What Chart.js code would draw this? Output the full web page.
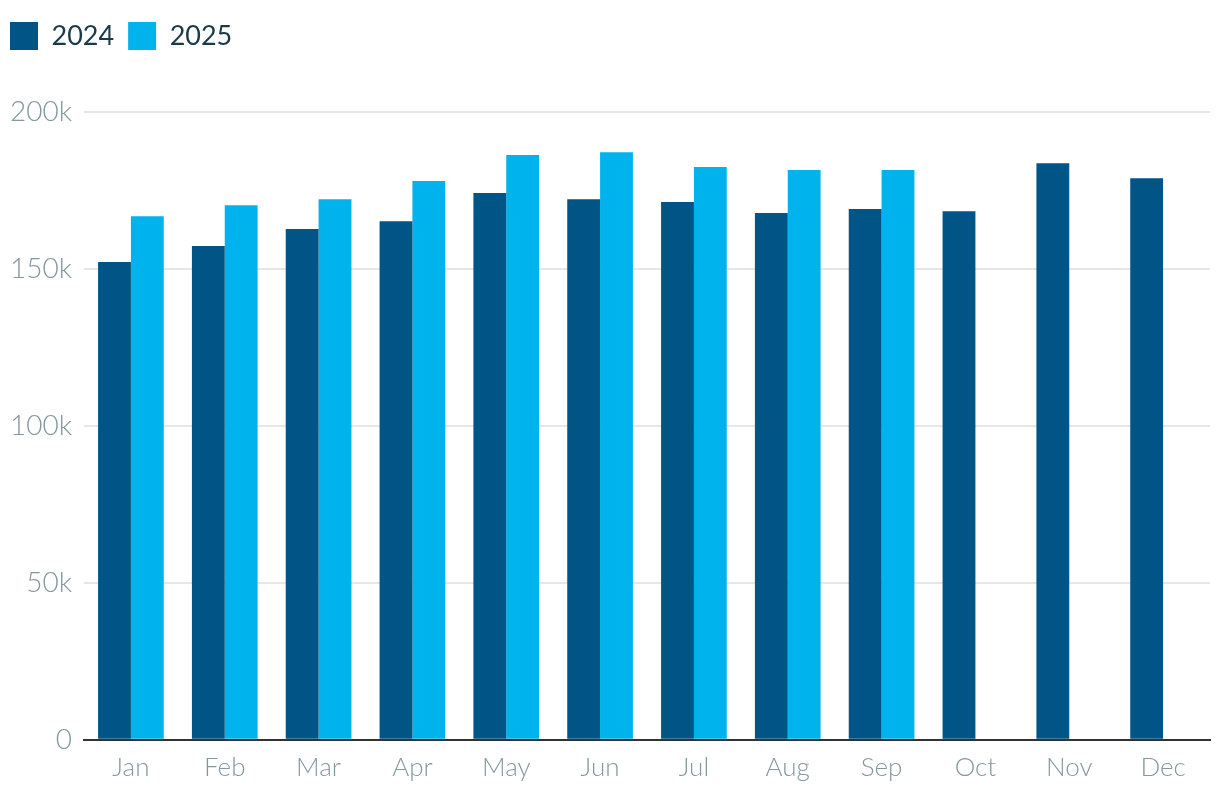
<!DOCTYPE html>
<html>
<head>
<meta charset="utf-8">
<script src="https://cdn.jsdelivr.net/npm/chart.js@4/dist/chart.umd.min.js"></script>
<style>
  html, body { margin: 0; padding: 0; background: #fff; }
  #wrap { width: 1220px; height: 800px; }
</style>
</head>
<body>
<div id="wrap"><canvas id="salesChart" width="1220" height="800"></canvas></div>
<script>
// Monthly values
const months = ['Jan', 'Feb', 'Mar', 'Apr', 'May', 'Jun', 'Jul', 'Aug', 'Sep', 'Oct', 'Nov', 'Dec'];
const values2024 = [152200, 157300, 162700, 165200, 174200, 172200, 171300, 167800, 169100, 168400, 183700, 178900];
const values2025 = [166800, 170300, 172200, 178000, 186300, 187200, 182500, 181500, 181500, null, null, null];
const yTicks = [0, 50000, 100000, 150000, 200000];

const tickColor = '#84989f';

// push the plot down below the legend
const legendGap = {
    id: 'legendGap',
    beforeInit(chart) {
        const origFit = chart.legend.fit;
        chart.legend.fit = function() {
            origFit.bind(chart.legend)();
            this.height += 52;
        };
    }
};

const ctx = document.getElementById('salesChart').getContext('2d');
const chart = new Chart(ctx, {
    type: 'bar',
    data: {
        labels: months,
        datasets: [
            {
                label: '2024',
                data: values2024,
                backgroundColor: '#005587',
                categoryPercentage: 0.7,
                barPercentage: 1.0
            },
            {
                label: '2025',
                data: values2025,
                backgroundColor: '#00b3ec',
                categoryPercentage: 0.7,
                barPercentage: 1.0
            }
        ]
    },
    options: {
        responsive: false,
        animation: false,
        layout: {
            padding: { top: 8, right: 10, bottom: 5, left: -4 }
        },
        scales: {
            x: {
                grid: { display: false, drawTicks: false },
                border: { display: true, color: '#333333', width: 2 },
                ticks: {
                    color: tickColor,
                    padding: 12,
                    font: { family: 'Lato', size: 26, weight: 300 }
                }
            },
            y: {
                min: 0,
                max: 200000,
                afterBuildTicks: scale => {
                    scale.ticks = yTicks.map(v => ({ value: v }));
                },
                afterFit: scale => {
                    scale.width = 88;
                },
                grid: { color: '#e6e6e6', lineWidth: 2, drawTicks: false },
                border: { display: false },
                ticks: {
                    color: tickColor,
                    padding: 12,
                    font: { family: 'Lato', size: 28, weight: 300 },
                    callback: v => v === 0 ? '0' : (v / 1000) + 'k'
                }
            }
        },
        plugins: {
            legend: {
                position: 'top',
                align: 'start',
                labels: {
                    boxWidth: 28,
                    boxHeight: 28,
                    padding: 14,
                    color: '#1a3a4a',
                    font: { family: 'Lato', size: 27 }
                }
            },
            tooltip: { enabled: false }
        }
    },
    plugins: [legendGap]
});
</script>
</body>
</html>
